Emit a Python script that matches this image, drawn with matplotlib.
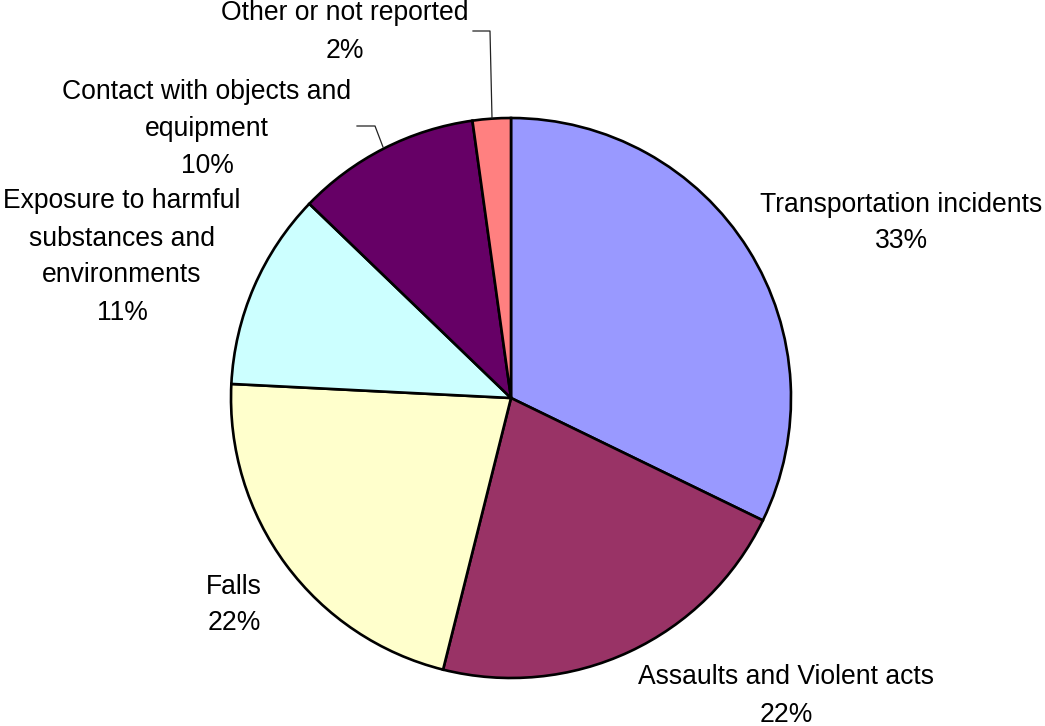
import matplotlib.pyplot as plt

categories = ["Transportation incidents", "Assaults and Violent acts", "Falls",
              "Exposure to harmful\nsubstances and\nenvironments",
              "Contact with objects and\nequipment", "Other or not reported"]
values = [32.2, 21.7, 21.9, 11.4, 10.6, 2.2]
pct_labels = ["33%", "22%", "22%", "11%", "10%", "2%"]
colors = ["#9999FF", "#993366", "#FFFFCC", "#CCFFFF", "#660066", "#FF8080"]

W, H = 1045, 726
fig = plt.figure(figsize=(W / 100, H / 100), dpi=100)
ax = fig.add_axes([0, 0, 1, 1])

ax.pie(values, colors=colors, startangle=90, counterclock=False,
       center=(511, H - 398), radius=280,
       wedgeprops=dict(edgecolor="black", linewidth=1.9))

# label block centres in pixels
label_pos = [(901, 223), (786, 696), (234, 605), (122, 257), (207, 129), (345, 32)]
for name, pct, (x, y) in zip(categories, pct_labels, label_pos):
    ax.text(x, H - y, name + "\n" + pct, ha="center", va="center",
            fontsize=19.1, family="Liberation Sans", linespacing=1.55)

# leader lines
ax.plot([473, 490, 492], [H - 31, H - 31, H - 118], color="#222222", lw=0.9)
ax.plot([357, 375, 383], [H - 126, H - 126, H - 147], color="#222222", lw=0.9)

ax.set_xlim(0, W)
ax.set_ylim(0, H)
ax.set_aspect("equal")
ax.axis("off")
fig.savefig("out.png", dpi=100, facecolor="white")
